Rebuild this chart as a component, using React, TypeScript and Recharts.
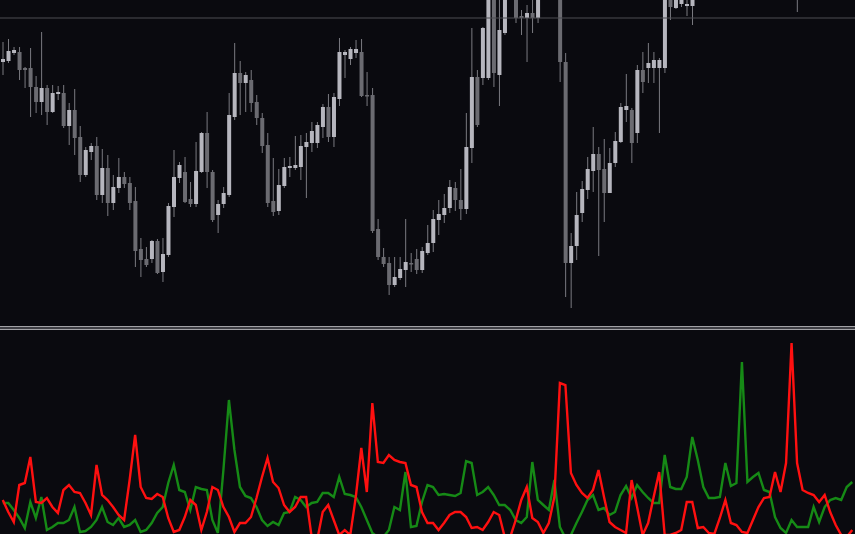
import { Bar, ComposedChart, Line, LineChart, ReferenceLine, XAxis, YAxis } from "recharts";

const BG = "#0a0a0f";
const LIGHT = "#b6b6be";
const DARK = "#6b6b71";
const WICK = "#7a7a80";
const RED = "#ff1010";
const GREEN = "#168a16";

// price panel, one entry per candle
const OPEN = [
  264, 265, 273, 274, 258, 258, 239, 224, 238, 214, 232, 233, 200, 216, 189, 151, 174, 180, 131, 158,
  123, 138, 149, 143, 125, 77, 67, 67, 85, 54, 71, 119, 148, 154, 127, 122, 154, 193, 154, 111,
  122, 131, 209, 253, 243, 246, 224, 208, 181, 125, 115, 140, 158, 158, 159, 179, 183, 183, 199, 219,
  189, 227, 271, 267, 273, 274, 231, 231, 97, 69, 63, 41, 48, 56, 63, 67, 56, 73, 83, 106,
  111, 118, 138, 126, 117, 178, 249, 248, 248, 335, 251, 293, 336, 345, 310, 308, 313, 308, 332, 345,
  356, 345, 264, 63, 80, 113, 136, 155, 172, 157, 133, 163, 184, 216, 216, 193, 256, 258, 258, 258,
  258, 345, 318, 322, 320, 320, 338, 352, 360, 356, 364, 376, 372, 380, 390, 382, 374, 366, 358, 350,
  344, 338, 342, 340, 336, 340, 348, 356, 362, 368, 372, 380, 376, 382, 390,
];
const HIGH = [
  284, 287, 279, 279, 259, 278, 250, 294, 241, 241, 240, 241, 223, 237, 200, 179, 183, 189, 177, 171,
  151, 168, 154, 149, 139, 88, 79, 86, 87, 88, 123, 176, 164, 169, 144, 184, 194, 214, 156, 126,
  139, 233, 283, 265, 254, 256, 231, 213, 193, 168, 157, 168, 169, 190, 191, 193, 204, 204, 222, 232,
  233, 288, 276, 279, 286, 287, 254, 238, 107, 78, 69, 69, 69, 107, 73, 77, 79, 101, 116, 126,
  132, 146, 144, 157, 213, 298, 256, 299, 345, 342, 330, 345, 360, 358, 316, 321, 330, 340, 350, 362,
  365, 352, 273, 93, 134, 145, 169, 199, 179, 187, 178, 194, 223, 252, 218, 261, 274, 283, 274, 268,
  340, 352, 340, 338, 330, 345, 358, 366, 372, 368, 380, 388, 384, 394, 398, 390, 382, 374, 366, 358,
  352, 348, 350, 348, 344, 352, 360, 366, 372, 378, 384, 390, 386, 394, 400,
];
const LOW = [
  251, 263, 271, 246, 238, 209, 213, 211, 201, 213, 226, 198, 181, 171, 144, 149, 166, 126, 123, 110,
  116, 133, 138, 116, 59, 49, 59, 63, 52, 44, 69, 109, 143, 123, 119, 119, 153, 138, 104, 93,
  118, 129, 206, 211, 214, 214, 201, 173, 119, 110, 111, 138, 149, 156, 146, 128, 174, 178, 188, 184,
  179, 220, 248, 261, 268, 229, 220, 93, 66, 59, 31, 39, 46, 39, 54, 52, 53, 71, 74, 91,
  103, 113, 115, 106, 112, 163, 199, 241, 246, 239, 220, 291, 330, 303, 291, 264, 293, 303, 328, 338,
  340, 244, 29, 18, 66, 104, 127, 134, 70, 104, 133, 159, 183, 204, 163, 183, 233, 243, 243, 193,
  253, 306, 317, 319, 310, 301, 333, 346, 352, 348, 360, 368, 364, 374, 378, 370, 362, 354, 346, 340,
  334, 332, 334, 330, 314, 336, 344, 350, 356, 360, 366, 372, 368, 376, 384,
];
const CLOSE = [
  267, 275, 276, 256, 256, 239, 224, 238, 214, 233, 234, 200, 216, 188, 151, 176, 180, 131, 158, 123,
  139, 149, 142, 123, 75, 66, 61, 85, 53, 72, 120, 149, 161, 124, 122, 155, 193, 154, 106, 122,
  133, 211, 253, 243, 251, 223, 208, 180, 123, 114, 141, 159, 160, 161, 180, 184, 195, 201, 219, 189,
  229, 274, 274, 277, 277, 230, 230, 95, 69, 62, 41, 49, 57, 64, 62, 56, 75, 83, 107, 112,
  118, 139, 126, 117, 179, 249, 201, 298, 335, 253, 296, 336, 352, 308, 308, 313, 308, 332, 345, 356,
  348, 264, 63, 80, 111, 137, 157, 172, 156, 133, 163, 185, 219, 220, 183, 256, 244, 263, 266, 266,
  334, 319, 335, 330, 322, 338, 352, 360, 356, 364, 376, 372, 380, 390, 382, 374, 366, 358, 350, 344,
  338, 342, 340, 336, 340, 348, 356, 362, 368, 372, 380, 376, 382, 390, 396,
];

// indicator panel
const RED_LINE = [
  60, 48, 38, 75, 77, 103, 58, 57, 62, 53, 47, 70, 75, 68, 67, 57, 45, 95, 65, 60,
  53, 45, 40, 80, 125, 73, 62, 61, 66, 63, 42, 28, 30, 43, 60, 55, 30, 48, 73, 70,
  53, 43, 28, 37, 37, 43, 62, 83, 102, 78, 72, 55, 48, 53, 63, 63, 23, 20, 48, 55,
  40, 25, 30, 25, 63, 112, 68, 157, 98, 97, 105, 100, 98, 97, 75, 73, 48, 37, 37, 30,
  37, 45, 48, 48, 43, 32, 33, 30, 38, 48, 45, 23, 23, 40, 60, 73, 42, 38, 27, 37,
  63, 177, 175, 87, 75, 67, 62, 70, 90, 63, 38, 33, 30, 27, 80, 53, 25, 37, 63, 88,
  25, 25, 27, 30, 58, 58, 32, 33, 27, 26, 42, 60, 37, 35, 28, 27, 40, 53, 62, 63,
  88, 68, 97, 217, 97, 70, 67, 65, 58, 65, 48, 35, 25, 23, 30,
];
const GREEN_LINE = [
  57, 57, 50, 42, 32, 58, 42, 63, 30, 33, 37, 37, 40, 53, 28, 29, 33, 40, 53, 38,
  35, 42, 33, 35, 40, 28, 30, 37, 47, 53, 77, 95, 70, 68, 50, 73, 71, 70, 40, 27,
  90, 160, 110, 73, 64, 62, 53, 40, 34, 38, 35, 47, 48, 63, 60, 53, 57, 58, 67, 67,
  63, 83, 66, 65, 63, 53, 40, 27, 23, 23, 30, 53, 50, 88, 33, 34, 58, 75, 73, 65,
  66, 65, 64, 67, 99, 97, 65, 68, 73, 65, 55, 55, 50, 40, 37, 43, 98, 60, 55, 50,
  80, 33, 22, 25, 37, 48, 60, 65, 50, 52, 45, 48, 65, 74, 62, 75, 68, 62, 57, 57,
  105, 73, 71, 71, 83, 123, 100, 73, 62, 62, 63, 97, 74, 77, 198, 78, 83, 87, 70, 68,
  43, 32, 27, 40, 33, 33, 33, 53, 38, 53, 60, 62, 60, 73, 78,
];

const candles = OPEN.map((open, i) => ({
  i,
  open,
  high: HIGH[i],
  low: LOW[i],
  close: CLOSE[i],
  range: [LOW[i], HIGH[i]],
}));

const lines = RED_LINE.map((red, i) => ({ i, red, green: GREEN_LINE[i] }));

function Candle(props: any) {
  const { x, y, width, height, payload } = props;
  const { open, close, high, low } = payload;
  const k = height / (high - low);
  const yOf = (v: number) => y + (high - v) * k;
  const cx = x + width / 2;
  const color = close >= open ? LIGHT : DARK;
  const top = yOf(Math.max(open, close));
  const bh = Math.max(1.5, yOf(Math.min(open, close)) - top);
  return (
    <g>
      <line x1={cx} x2={cx} y1={y} y2={y + height} stroke={WICK} strokeWidth={1} />
      <rect x={cx - 2} y={top} width={4} height={bh} fill={color} />
    </g>
  );
}

export default function App() {
  return (
    <div style={{ position: "absolute", left: 0, top: 0, width: 855, height: 534, background: BG, overflow: "hidden" }}>
      <ComposedChart width={855} height={326} data={candles} margin={{ top: 0, right: 0, bottom: 0, left: 0 }} barCategoryGap={0}>
        <XAxis dataKey="i" hide />
        <YAxis hide domain={[0, 326]} allowDataOverflow />
        <ReferenceLine y={308} stroke="#4c4c52" strokeWidth={1} />
        <Bar dataKey="range" shape={<Candle />} isAnimationActive={false} />
      </ComposedChart>
      <div style={{ position: "absolute", left: 0, top: 326, width: 855, height: 1, background: "#a2a2a6" }} />
      <div style={{ position: "absolute", left: 0, top: 327, width: 855, height: 2, background: "#3e3e44" }} />
      <div style={{ position: "absolute", left: 0, top: 329, width: 855, height: 1, background: "#a2a2a6" }} />
      <div style={{ position: "absolute", left: 0, top: 330 }}>
        <LineChart width={855} height={204} data={lines} margin={{ top: 0, right: 0, bottom: 0, left: 0 }}>
          <XAxis dataKey="i" type="number" domain={[-0.5, 154.5]} hide />
          <YAxis hide domain={[26, 230]} allowDataOverflow />
          <Line type="linear" dataKey="green" stroke={GREEN} strokeWidth={2.4} dot={false} isAnimationActive={false} />
          <Line type="linear" dataKey="red" stroke={RED} strokeWidth={2.4} dot={false} isAnimationActive={false} />
        </LineChart>
      </div>
    </div>
  );
}
